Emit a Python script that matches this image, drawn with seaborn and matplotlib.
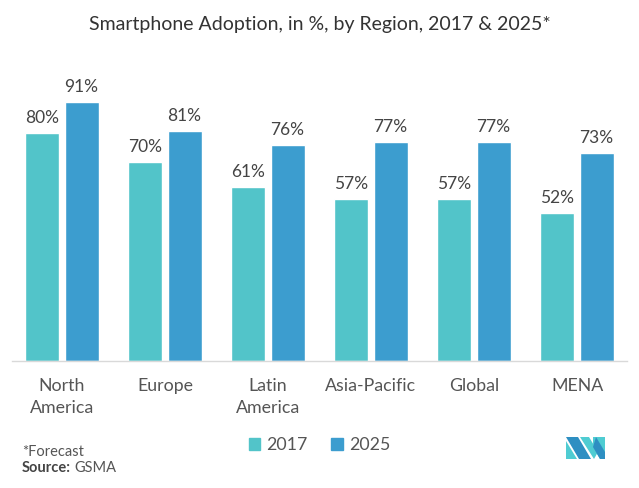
import numpy as np
import pandas as pd
import matplotlib.pyplot as plt
import seaborn as sns
from matplotlib.patches import Polygon

sns.set_style('white')
plt.rcParams['font.family'] = ['Lato', 'DejaVu Sans']

# data
regions = ['North\nAmerica', 'Europe', 'Latin\nAmerica', 'Asia-Pacific', 'Global', 'MENA']
years = ['2017', '2025']
adoption_2017 = [80, 70, 61, 57, 57, 52]
adoption_2025 = [91, 81, 76, 77, 77, 73]
colors = ['#52C4C9', '#3C9DCF']

df = pd.DataFrame({
    'region': regions * 2,
    'year': [years[0]] * len(regions) + [years[1]] * len(regions),
    'value': adoption_2017 + adoption_2025,
})

fig = plt.figure(figsize=(6.39, 4.88), dpi=100)
ax = fig.add_axes([0.0188, 0.2602, 0.9624, 0.6123])

sns.barplot(data=df, x='region', y='value', hue='year', palette=colors,
            width=0.76, gap=0.13, saturation=1, ax=ax, legend=False)

for cont in ax.containers:
    ax.bar_label(cont, labels=[f'{v:.0f}%' for v in cont.datavalues],
                 padding=5, fontsize=12.5, color='#444444')

ax.set_xlim(-0.485, 5.485)
ax.set_ylim(0, 105)
ax.set_xlabel('')
ax.set_ylabel('')
ax.set_yticks([])
for s in ['top', 'right', 'left']:
    ax.spines[s].set_visible(False)
ax.spines['bottom'].set_color('#d9d9d9')
ax.spines['bottom'].set_linewidth(1)
ax.tick_params(axis='x', length=0, pad=12, labelsize=12.8, labelcolor='#555555')
for lbl in ax.get_xticklabels():
    lbl.set_linespacing(1.45)

fig.text(0.5, 0.949, 'Smartphone Adoption, in %, by Region, 2017 & 2025*',
         ha='center', va='center', fontsize=14, color='#333333')

# legend
handles = [plt.Rectangle((0, 0), 1, 1, color=c) for c in colors]
fig.legend(handles, years, loc='center', bbox_to_anchor=(0.5, 0.088),
           ncol=2, frameon=False, fontsize=12.8, handlelength=0.65,
           handleheight=0.65, handletextpad=0.35, columnspacing=1.3,
           labelcolor='#555555')

fig.text(0.034, 0.074, '*Forecast', fontsize=10.5, color='#555555', va='center')
src = fig.text(0.034, 0.042, 'Source:', fontsize=10.5, color='#444444',
               va='center', fontweight='bold')
r = fig.canvas.get_renderer()
bb = src.get_window_extent(renderer=r).transformed(fig.transFigure.inverted())
fig.text(bb.x1 + 0.006, 0.042, 'GSMA', fontsize=10.5, color='#555555', va='center')

# logo
def px(x, y):
    return (x / 639, 1 - y / 488)

logo = [
    ([(566, 437), (578, 437), (591, 459), (579, 459)], '#2E8FC2'),
    ([(566, 441), (566, 459), (577, 459)], '#4FCCD2'),
    ([(580, 437), (589, 437), (598, 452), (594, 459)], '#4FCCD2'),
    ([(593, 437), (605, 437), (605, 459), (600, 459), (593, 447)], '#4FCCD2'),
    ([(596, 437), (605, 452), (605, 459), (600, 459), (593, 447)], '#2E8FC2'),
]
for pts, c in logo:
    fig.patches.append(Polygon([px(*p) for p in pts], closed=True,
                               transform=fig.transFigure, facecolor=c,
                               edgecolor='none'))

fig.savefig('out.png', dpi=100, facecolor='white')
